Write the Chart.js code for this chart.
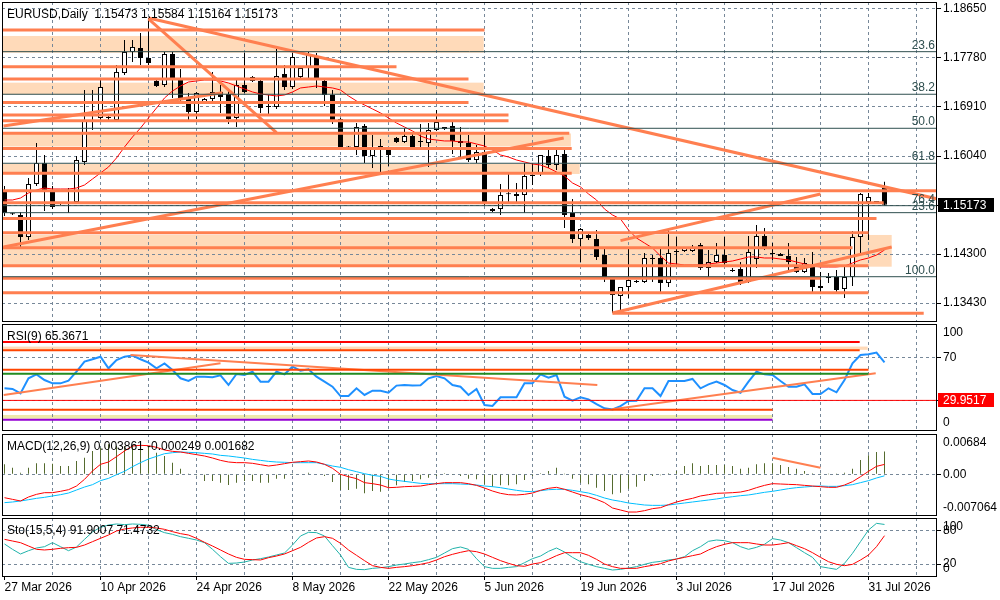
<!DOCTYPE html>
<html>
<head>
<meta charset="utf-8">
<title>EURUSD Daily</title>
<script src="https://cdn.jsdelivr.net/npm/chart.js@4.4.1/dist/chart.umd.min.js"></script>
<style>
  body { margin: 0; background: #fff; width: 1000px; height: 600px; overflow: hidden; position: relative; }
  canvas { position: absolute; left: 0; }
</style>
</head>
<body>
<canvas id="cMain" width="1000" height="323" style="top:0px"></canvas>
<canvas id="cRsi" width="1000" height="107" style="top:324px"></canvas>
<canvas id="cMacd" width="1000" height="82" style="top:434px"></canvas>
<canvas id="cSto" width="1000" height="82" style="top:518px"></canvas>
<script>
/*
  EURUSD daily, MetaTrader style: candles + MA, RSI(9), MACD(12,26,9), Sto(15,5,4)
  one bar per trading day, sunday bars included (6 bars a week)
*/

// date labels on the bottom axis, one every 12 bars (2 weeks)
const dateLabels = ['27 Mar 2026', '10 Apr 2026', '24 Apr 2026', '8 May 2026', '22 May 2026',
                    '5 Jun 2026', '19 Jun 2026', '3 Jul 2026', '17 Jul 2026', '31 Jul 2026'];

// price axis labels
const priceTicks = [1.18650, 1.17780, 1.16910, 1.16040, 1.15170, 1.14300, 1.13430];

// candles
const opens = [
  1.15437,1.15010,1.14993,1.14602,1.15543,1.15916,1.15437,1.15188,1.15206,1.15223,
  1.15934,1.16644,1.16715,1.16733,1.16679,1.17514,1.17887,1.17958,1.17780,1.17372,
  1.17301,1.17851,1.17390,1.17052,1.16821,1.16981,1.17052,1.17177,1.17141,1.16715,
  1.17301,1.17443,1.17372,1.16928,1.16910,1.17496,1.17265,1.17443,1.17603,1.17816,
  1.17372,1.17123,1.16697,1.16200,1.16200,1.16573,1.16040,1.16218,1.16165,1.16360,
  1.16289,1.16395,1.16307,1.16271,1.16502,1.16520,1.16573,1.16307,1.16271,1.15969,
  1.16111,1.15099,1.15099,1.15366,1.15366,1.15348,1.15685,1.15738,1.16040,1.15880,
  1.16076,1.15028,1.14567,1.14638,1.14567,1.14282,1.13856,1.13555,1.13714,1.13803,
  1.13803,1.14211,1.14229,1.13785,1.14353,1.14353,1.14353,1.14460,1.14052,1.14158,
  1.14282,1.14016,1.14034,1.13803,1.14211,1.14620,1.14300,1.14300,1.14265,1.14070,
  1.13981,1.14105,1.13732,1.13892,1.13892,1.13679,1.13892,1.14602,1.15223,1.15223,
  1.15473];
const highs = [
  1.15508,1.15028,1.15046,1.15650,1.16271,1.16058,1.15508,1.15223,1.15472,1.16040,
  1.17212,1.17212,1.17390,1.16768,1.17656,1.18100,1.18100,1.18224,1.18490,1.17390,
  1.17887,1.17887,1.17585,1.17159,1.17177,1.17070,1.17532,1.17301,1.17212,1.17390,
  1.17869,1.17461,1.17390,1.17123,1.17940,1.17656,1.17869,1.17603,1.17887,1.17869,
  1.17425,1.17212,1.16715,1.16218,1.16626,1.16608,1.16413,1.16342,1.16200,1.16378,
  1.16537,1.16466,1.16608,1.16626,1.16857,1.16555,1.16644,1.16555,1.16413,1.16236,
  1.16413,1.15117,1.15543,1.15756,1.15561,1.15916,1.15916,1.16058,1.16200,1.16182,
  1.16147,1.15277,1.14762,1.14691,1.14726,1.14407,1.13860,1.13714,1.14424,1.13839,
  1.14318,1.14282,1.14424,1.14726,1.14602,1.14407,1.14460,1.14495,1.14371,1.14495,
  1.14602,1.14052,1.14158,1.14620,1.14815,1.14762,1.14495,1.14318,1.14495,1.14247,
  1.14229,1.14336,1.13981,1.13963,1.14016,1.14070,1.14709,1.15383,1.15383,1.15241,
  1.15584];
const lows = [
  1.14975,1.14993,1.14424,1.14549,1.15508,1.15064,1.15099,1.15170,1.15028,1.15188,
  1.15880,1.16502,1.16679,1.16679,1.16644,1.17478,1.17709,1.17656,1.17656,1.17265,
  1.17265,1.17070,1.16999,1.16679,1.16697,1.16963,1.17017,1.16804,1.16608,1.16555,
  1.17159,1.17354,1.16804,1.16768,1.16875,1.17212,1.17230,1.17425,1.17425,1.17248,
  1.16928,1.16608,1.16147,1.16182,1.16058,1.15916,1.15827,1.15738,1.15863,1.16271,
  1.16271,1.16182,1.16200,1.15845,1.16484,1.16502,1.16076,1.16022,1.15934,1.15916,
  1.15170,1.15046,1.14993,1.15206,1.15206,1.15028,1.15525,1.15685,1.15827,1.15792,
  1.14762,1.14495,1.14158,1.14549,1.14194,1.13803,1.13253,1.13306,1.13519,1.13785,
  1.13785,1.13803,1.13626,1.13714,1.14070,1.14336,1.14336,1.14016,1.13892,1.14140,
  1.14105,1.13981,1.13750,1.13785,1.14052,1.14371,1.14194,1.14265,1.14016,1.13963,
  1.13963,1.13626,1.13626,1.13785,1.13626,1.13519,1.13732,1.14318,1.14549,1.15206,
  1.15164];
const closes = [
  1.15028,1.15005,1.14602,1.15543,1.15916,1.15401,1.15135,1.15206,1.15223,1.15969,
  1.16679,1.16662,1.17265,1.16715,1.17532,1.17887,1.17976,1.17780,1.17691,1.17283,
  1.17851,1.17425,1.17070,1.16821,1.17159,1.17052,1.17177,1.17088,1.16697,1.17301,
  1.17177,1.17372,1.16892,1.16910,1.17461,1.17265,1.17798,1.17603,1.17834,1.17390,
  1.17123,1.16644,1.16200,1.16191,1.16555,1.16040,1.16200,1.16200,1.16058,1.16289,
  1.16395,1.16200,1.16289,1.16502,1.16644,1.16555,1.16307,1.16271,1.15969,1.16111,
  1.15223,1.15064,1.15348,1.15360,1.15330,1.15685,1.15690,1.16058,1.15880,1.16058,
  1.14993,1.14567,1.14744,1.14584,1.14247,1.13874,1.13572,1.13714,1.13839,1.13821,
  1.14229,1.14229,1.13785,1.14318,1.14336,1.14407,1.14424,1.14052,1.14158,1.14282,
  1.14140,1.13998,1.13785,1.14336,1.14620,1.14424,1.14318,1.14265,1.14158,1.13981,
  1.14140,1.13714,1.13696,1.13874,1.13661,1.13892,1.14602,1.15366,1.15312,1.15230,
  1.15173];

// moving average (red line on the candles)
const maLine = [
  1.15259,1.15259,1.15294,1.15383,1.15437,1.15472,1.15454,1.15454,1.15454,1.15472,
  1.15525,1.15632,1.15738,1.15845,1.16005,1.16200,1.16378,1.16537,1.16715,1.16892,
  1.17070,1.17194,1.17283,1.17354,1.17372,1.17390,1.17390,1.17372,1.17336,1.17283,
  1.17230,1.17177,1.17141,1.17123,1.17106,1.17123,1.17177,1.17248,1.17265,1.17283,
  1.17265,1.17248,1.17212,1.17106,1.17017,1.16946,1.16875,1.16804,1.16715,1.16626,
  1.16555,1.16484,1.16395,1.16342,1.16324,1.16307,1.16307,1.16289,1.16289,1.16253,
  1.16218,1.16147,1.16058,1.16022,1.15969,1.15934,1.15898,1.15880,1.15827,1.15756,
  1.15685,1.15561,1.15490,1.15366,1.15259,1.15099,1.14993,1.14922,1.14726,1.14584,
  1.14495,1.14407,1.14265,1.14140,1.14123,1.14105,1.14105,1.14105,1.14123,1.14140,
  1.14158,1.14176,1.14211,1.14247,1.14247,1.14229,1.14229,1.14211,1.14194,1.14158,
  1.14123,1.14087,1.14070,1.14070,1.14070,1.14087,1.14140,1.14194,1.14229,1.14282,
  1.14371];

// RSI(9)
const rsiValues = [
  41.2,40.6,36.5,50.5,54.2,48.9,45.8,45.8,48.3,56.7,
  66.0,68.2,70.6,59.8,67.5,70.6,71.6,68.2,65.1,59.8,
  64.4,58.2,50.5,48.0,52.0,52.0,51.4,53.3,44.3,54.5,
  53.6,56.7,47.4,47.4,56.7,54.2,61.3,57.6,58.9,52.0,
  47.4,42.7,34.0,34.0,41.2,35.0,39.0,39.0,37.1,43.7,
  44.3,43.7,44.0,50.5,52.7,50.5,44.3,42.7,35.0,40.6,
  25.7,24.7,32.8,32.8,32.8,45.8,45.8,54.2,51.1,53.6,
  33.4,29.7,32.8,30.9,26.6,22.6,21.6,24.7,29.4,29.7,
  41.2,41.2,34.0,48.0,48.0,48.0,49.9,41.2,44.9,47.4,
  44.3,39.6,37.1,47.4,56.7,54.2,53.6,48.0,42.7,42.7,
  44.9,35.9,35.9,41.2,37.5,48.9,64.4,72.2,72.8,74.4,
  65.3671];

// MACD(12,26,9): histogram, blue line, red line
const macdHist = [
  0.00170,0.00113,0.00028,0.00113,0.00187,0.00187,0.00181,0.00141,0.00141,0.00226,
  0.00283,0.00396,0.00452,0.00509,0.00480,0.00480,0.00492,0.00492,0.00480,0.00367,
  0.00311,0.00198,0.00096,0.00005,-0.00017,-0.00113,-0.00113,-0.00141,-0.00181,-0.00141,
  -0.00113,-0.00113,-0.00141,-0.00141,-0.00073,-0.00073,0.00002,0.00011,0.00028,0.00011,
  -0.00028,-0.00130,-0.00266,-0.00266,-0.00243,-0.00322,-0.00283,-0.00294,-0.00226,-0.00187,
  -0.00130,-0.00113,-0.00085,-0.00057,-0.00028,0.00017,-0.00002,-0.00028,-0.00073,-0.00085,
  -0.00170,-0.00209,-0.00187,-0.00187,-0.00170,-0.00096,-0.00028,0.00017,0.00057,0.00113,
  0.00002,-0.00073,-0.00141,-0.00170,-0.00226,-0.00283,-0.00339,-0.00311,-0.00243,-0.00209,
  -0.00113,-0.00028,-0.00017,0.00017,0.00057,0.00141,0.00187,0.00141,0.00158,0.00158,
  0.00158,0.00141,0.00096,0.00113,0.00170,0.00187,0.00187,0.00158,0.00124,0.00096,
  0.00057,0.00017,0.00002,0.00002,0.00002,0.00028,0.00096,0.00243,0.00322,0.00379,
  0.003861];
const macdBlue = [
  -0.00480,-0.00469,-0.00452,-0.00430,-0.00407,-0.00390,-0.00367,-0.00345,-0.00317,-0.00266,
  -0.00215,-0.00175,-0.00107,-0.00068,-0.00006,0.00051,0.00130,0.00198,0.00260,0.00305,
  0.00350,0.00367,0.00379,0.00373,0.00367,0.00356,0.00345,0.00322,0.00311,0.00294,
  0.00277,0.00254,0.00237,0.00220,0.00209,0.00204,0.00198,0.00198,0.00198,0.00198,
  0.00170,0.00141,0.00119,0.00079,0.00045,0.00011,-0.00017,-0.00034,-0.00079,-0.00102,
  -0.00119,-0.00136,-0.00153,-0.00158,-0.00158,-0.00158,-0.00158,-0.00164,-0.00170,-0.00181,
  -0.00198,-0.00209,-0.00226,-0.00249,-0.00271,-0.00288,-0.00294,-0.00277,-0.00260,-0.00254,
  -0.00254,-0.00271,-0.00294,-0.00317,-0.00356,-0.00401,-0.00435,-0.00458,-0.00486,-0.00503,
  -0.00520,-0.00526,-0.00526,-0.00520,-0.00503,-0.00486,-0.00469,-0.00452,-0.00435,-0.00418,
  -0.00396,-0.00379,-0.00362,-0.00350,-0.00328,-0.00305,-0.00288,-0.00266,-0.00243,-0.00226,
  -0.00215,-0.00204,-0.00198,-0.00204,-0.00204,-0.00192,-0.00175,-0.00141,-0.00107,-0.00062,
  -0.000249];
const macdRed = [
  -0.00396,-0.00424,-0.00452,-0.00384,-0.00339,-0.00311,-0.00311,-0.00288,-0.00260,-0.00198,
  -0.00085,0.00057,0.00170,0.00209,0.00300,0.00396,0.00480,0.00492,0.00486,0.00458,
  0.00413,0.00390,0.00379,0.00356,0.00334,0.00311,0.00277,0.00237,0.00209,0.00198,
  0.00198,0.00187,0.00164,0.00141,0.00158,0.00181,0.00204,0.00215,0.00226,0.00209,
  0.00170,0.00102,0.00000,-0.00040,-0.00073,-0.00141,-0.00158,-0.00181,-0.00226,-0.00220,
  -0.00209,-0.00204,-0.00198,-0.00175,-0.00158,-0.00141,-0.00141,-0.00141,-0.00158,-0.00187,
  -0.00232,-0.00283,-0.00322,-0.00345,-0.00350,-0.00339,-0.00317,-0.00271,-0.00237,-0.00220,
  -0.00254,-0.00300,-0.00345,-0.00379,-0.00424,-0.00480,-0.00571,-0.00605,-0.00639,-0.00639,
  -0.00616,-0.00582,-0.00565,-0.00514,-0.00469,-0.00435,-0.00407,-0.00367,-0.00345,-0.00322,
  -0.00317,-0.00311,-0.00300,-0.00271,-0.00226,-0.00187,-0.00158,-0.00164,-0.00170,-0.00175,
  -0.00187,-0.00198,-0.00209,-0.00220,-0.00220,-0.00181,-0.00124,-0.00040,0.00051,0.00136,
  0.001682];

// Stochastic(15,5,4): main and signal
const stoMain = [
  56.4,46.7,38.2,44.2,49.1,51.5,58.8,51.5,44.2,50.9,
  64.8,78.2,86.7,90.9,92.7,91.5,92.7,92.1,90.3,82.4,
  77.0,73.9,69.7,66.7,63.6,58.8,46.7,33.3,21.2,21.8,
  23.6,27.3,29.7,32.7,36.4,40.0,54.5,70.9,77.6,77.0,
  70.9,53.3,36.4,13.9,10.3,9.7,12.1,13.3,15.2,18.2,
  20.0,22.4,24.2,27.9,32.1,40.0,47.9,50.9,46.7,29.7,
  15.2,12.1,12.1,13.9,15.2,22.4,29.7,34.5,43.0,49.1,
  41.8,32.1,24.2,19.4,15.2,12.1,9.1,10.3,12.7,15.2,
  19.4,23.0,24.8,27.3,29.1,33.3,44.2,51.5,61.2,63.6,
  62.4,58.8,51.5,46.7,50.3,55.8,66.1,63.6,58.8,49.7,
  40.6,32.1,15.2,12.7,10.3,21.2,39.4,60.6,81.8,93.9,
  91.9007];
const stoSignal = [
  64.8,61.8,58.8,52.7,46.7,45.5,46.7,48.5,49.7,50.3,
  54.5,60.6,66.7,72.7,80.0,83.6,85.5,86.7,86.7,85.5,
  83.0,78.8,75.2,72.7,66.7,59.4,52.7,45.5,38.2,32.1,
  28.5,27.9,27.3,31.5,34.5,38.2,44.2,50.3,59.4,67.3,
  69.7,66.7,57.6,45.5,35.8,26.1,17.0,13.9,12.1,13.9,
  15.2,17.0,19.4,22.4,27.3,33.3,37.6,41.2,44.2,42.4,
  38.2,32.1,26.1,21.2,17.0,15.8,20.0,22.4,28.5,35.2,
  40.6,40.6,40.6,35.8,28.5,20.0,15.2,12.1,12.1,12.1,
  15.2,17.6,20.6,25.5,29.1,32.1,35.2,38.2,45.5,51.5,
  55.8,58.8,58.8,58.8,56.4,54.5,54.5,56.4,58.8,53.3,
  47.9,40.6,32.1,24.2,19.4,17.0,19.4,27.3,36.4,51.5,
  71.4732];

// drawn objects on the price chart (bar index / price)
const hLines = [ // [first bar, price, last bar]
  [-1, 1.18277, 60], [-1, 1.17626, 49], [-1, 1.17407, 58], [-1, 1.16990, 58],
  [-1, 1.16768, 63], [-1, 1.16667, 63], [-1, 1.16443, 70.6], [-1, 1.16173, 70.9],
  [-1, 1.15733, 70.9], [-1, 1.15424, 120], [-1, 1.15211, 109.9], [-1, 1.14930, 109],
  [-1, 1.14678, 108], [-1, 1.14412, 106], [-1, 1.14093, 108], [-1, 1.13871, 102],
  [-1, 1.13613, 108], [76, 1.13247, 114.9]];
const zones = [ // [upper price, lower price, last bar]
  [1.18171, 1.17874, 59.9], [1.17342, 1.17136, 59.9], [1.16440, 1.16209, 70.8],
  [1.15898, 1.15721, 71.9], [1.14638, 1.14075, 110.9]];
const trendLines = [ // [bar, price, bar, price]
  [18, 1.18490, 116.6, 1.15277], [18, 1.18473, 34, 1.16454],
  [-0.125, 1.14424, 69.9, 1.16360], [-0.125, 1.16573, 27.25, 1.17164],
  [77, 1.14537, 102, 1.15366], [76, 1.13253, 110.9, 1.14424]];
const fiboLevels = [1.17892, 1.17136, 1.16532, 1.15911, 1.15158, 1.15034, 1.13897];
const fiboNames = ['23.6', '38.2', '50.0', '61.8', '76.4', '23.6', '100.0'];

// drawn objects on the RSI window
const rsiLevels = [84.3, 76.5, 58.5, 54.8, 29.9517, 21.3, 12.0];
const rsiLevelEnds = [106.9, 106.9, 108, 108, 120, 96, 96];
const rsiZones = [[80.0, 77.0, 107.9], [16.4, 12.9, 96]];
const rsiTrends = [[-0.1, 35.0, 27, 64.5], [15.75, 72.2, 74.1, 44.3], [76, 21.7, 108.9, 55.2]];
const macdTrend = [96, 0.0028, 102, 0.0011];


// ---------- styles ----------
const GRID = '#778899';
const CORAL = '#FF7F50';
const PEACH = '#FFDAB9';
const FIBO = '#2F4F4F';
const FONT = { family: '"Liberation Sans", Arial, sans-serif', size: 12 };
const FONT_CSS = '12px "Liberation Sans", Arial, sans-serif';
// 8 px per bar, bar centres on half pixels so 1px wicks stay sharp
const X_MIN = -0.3125, X_MAX = 116.5625;

const rsiLevelColors = ['#FF0000', '#FF4500', '#FF4500', '#228B22', '#FF0000', '#FF4500', '#9400D3'];
const rsiLevelWidths = [2, 2, 2, 2, 1, 2, 2];
const rsiZoneColors = [PEACH, '#EEE8AA'];

const bars = closes.map((c, i) => i);
const last = closes.length - 1;

// weekly vertical grid
const weekBars = [];
for (let i = 0; i <= 114; i += 6) weekBars.push(i);

// a two point line segment
function seg(x0, y0, x1, y1, color, width) {
  return {
    type: 'line', data: [{ x: x0, y: y0 }, { x: x1, y: y1 }],
    borderColor: color, borderWidth: width, pointRadius: 0,
    fill: false, tension: 0, clip: 0, order: 0
  };
}

function series(values, color, width) {
  return {
    type: 'line', data: values.map((v, i) => ({ x: i, y: v })),
    borderColor: color, borderWidth: width, pointRadius: 0,
    fill: false, tension: 0, clip: 0, order: 1
  };
}

function xAxis(showLabels) {
  return {
    type: 'linear', min: X_MIN, max: X_MAX, offset: false,
    afterBuildTicks: s => { s.ticks = weekBars.map(v => ({ value: v })); },
    afterFit: s => { s.height = showLabels ? 23 : 0; s.paddingLeft = 0; s.paddingRight = 0; },
    grid: {
      color: c => (c.tick && c.tick.value === 0) ? 'rgba(0,0,0,0)' : GRID,
      drawTicks: showLabels, tickLength: 3, tickBorderDash: [], offset: false,
      tickColor: c => (c.tick && c.tick.value % 12 === 0) ? '#000' : 'rgba(0,0,0,0)'
    },
    border: { display: false, dash: [3, 3] },
    ticks: {
      display: showLabels, autoSkip: false, maxRotation: 0, minRotation: 0,
      align: 'start', padding: 0, font: FONT, color: '#000',
      callback: v => (v % 12 === 0 && dateLabels[v / 12]) ? dateLabels[v / 12] : ''
    }
  };
}

function yAxis(min, max, ticks, showLabels) {
  return {
    position: 'right', min: min, max: max,
    afterBuildTicks: s => { s.ticks = ticks.map(v => ({ value: v })); },
    afterFit: s => { s.width = 63; s.paddingTop = 0; s.paddingBottom = 0; },
    ticks: { display: showLabels, font: FONT, color: '#000', padding: 2, callback: v => v.toFixed(5) },
    grid: { color: GRID, tickColor: '#000', tickLength: 4, tickBorderDash: [] },
    border: { display: false, dash: [3, 3] }
  };
}

// window decorations: zones behind the grid, frame, titles, side labels, value box
function decor(cfg) {
  return {
    id: 'decor',
    beforeDraw(chart) {
      const { ctx, chartArea: a, scales: { x, y } } = chart;
      ctx.save();
      (cfg.zones || []).forEach((z, k) => {
        const x1 = Math.min(x.getPixelForValue(z[2]), a.right);
        const y0 = y.getPixelForValue(z[0]), y1 = y.getPixelForValue(z[1]);
        ctx.fillStyle = cfg.zoneColors[k];
        ctx.fillRect(a.left, y0, x1 - a.left, y1 - y0);
      });
      ctx.restore();
    },
    afterDraw(chart) {
      const { ctx, chartArea: a, scales: { y } } = chart;
      ctx.save();
      ctx.font = FONT_CSS;

      // fibo level names
      if (cfg.fibo) {
        ctx.fillStyle = FIBO;
        ctx.textAlign = 'right';
        ctx.textBaseline = 'alphabetic';
        cfg.fibo.levels.forEach((p, k) => {
          ctx.fillText(cfg.fibo.names[k], a.right - 2, y.getPixelForValue(p) - 3);
        });
      }

      // frame
      ctx.strokeStyle = '#000';
      ctx.lineWidth = 1;
      ctx.strokeRect(a.left + 0.5, a.top + 0.5, a.right - a.left - 1, a.bottom - a.top - 1);

      // title
      ctx.fillStyle = '#000';
      ctx.textAlign = 'left';
      ctx.textBaseline = 'alphabetic';
      ctx.fillText(cfg.title, a.left + 5, a.top + 15.5);

      // side labels, kept inside the window like MT4 does
      (cfg.sideLabels || []).forEach(([v, t]) => {
        let py = y.getPixelForValue(v);
        py = Math.max(a.top + 9, Math.min(a.bottom - 8, py));
        ctx.textBaseline = 'middle';
        ctx.fillText(t, a.right + 6, py);
      });

      // value box on the axis
      if (cfg.box) {
        const py = Math.round(y.getPixelForValue(cfg.box.value));
        ctx.fillStyle = cfg.box.bg;
        ctx.fillRect(a.right + 1, py - 7, 56, 14);
        ctx.fillStyle = cfg.box.fg;
        ctx.textBaseline = 'middle';
        ctx.fillText(cfg.box.text, a.right + 6, py + 0.5);
      }
      ctx.restore();
    }
  };
}

const common = {
  responsive: false, animation: false, events: [],
  plugins: { legend: { display: false }, tooltip: { enabled: false } }
};


// ---------- price window ----------
let mainSets = [];
fiboLevels.forEach(p => mainSets.push(seg(-1, p, 120, p, FIBO, 1)));
hLines.forEach(h => mainSets.push(seg(h[0], h[1], h[2], h[1], CORAL, 3)));
trendLines.forEach(t => mainSets.push(seg(t[0], t[1], t[2], t[3], CORAL, 3)));
mainSets.push(series(maLine, '#FF0000', 1));
mainSets.push({
  type: 'bar', grouped: false, order: 2,
  data: bars.map(i => ({ x: i, y: [opens[i], closes[i]] })),
  backgroundColor: c => closes[c.dataIndex] >= opens[c.dataIndex] ? '#fff' : '#000',
  borderColor: '#000', borderWidth: 1, borderSkipped: false,
  barThickness: 5, minBarLength: 1, inflateAmount: 0
});
mainSets.push({
  type: 'bar', grouped: false, order: 3,
  data: bars.map(i => ({ x: i, y: [lows[i], highs[i]] })),
  backgroundColor: '#000', borderWidth: 0, barThickness: 1, inflateAmount: 0
});

new Chart(document.getElementById('cMain'), {
  type: 'bar',
  data: { datasets: mainSets },
  options: Object.assign({}, common, {
    layout: { padding: { left: 2, top: 2, right: 0, bottom: 1 } },
    scales: { x: xAxis(false), y: yAxis(1.13093, 1.18774, priceTicks, true) }
  }),
  plugins: [decor({
    zones: zones, zoneColors: zones.map(() => PEACH),
    fibo: { levels: fiboLevels, names: fiboNames },
    title: 'EURUSD,Daily  ' + [opens[last], highs[last], lows[last], closes[last]].map(v => v.toFixed(5)).join(' '),
    box: { value: closes[last], text: closes[last].toFixed(5), bg: '#000', fg: '#fff' }
  })]
});


// ---------- RSI window ----------
let rsiSets = [];
rsiLevels.forEach((v, k) => rsiSets.push(seg(-1, v, rsiLevelEnds[k], v, rsiLevelColors[k], rsiLevelWidths[k])));
rsiTrends.forEach(t => rsiSets.push(seg(t[0], t[1], t[2], t[3], CORAL, 2)));
rsiSets.push(series(rsiValues, '#1E90FF', 2));

new Chart(document.getElementById('cRsi'), {
  type: 'line',
  data: { datasets: rsiSets },
  options: Object.assign({}, common, {
    layout: { padding: { left: 2, top: 0, right: 0, bottom: 0 } },
    scales: { x: xAxis(false), y: yAxis(1.5, 101, [30, 70], false) }
  }),
  plugins: [decor({
    zones: rsiZones, zoneColors: rsiZoneColors,
    title: 'RSI(9) ' + rsiValues[last].toFixed(4),
    sideLabels: [[100, '100'], [70, '70'], [0, '0']],
    box: { value: rsiLevels[4], text: rsiLevels[4].toFixed(4), bg: '#FF0000', fg: '#fff' }
  })]
});


// ---------- MACD window ----------
let macdSets = [];
macdSets.push(seg(macdTrend[0], macdTrend[1], macdTrend[2], macdTrend[3], CORAL, 2));
macdSets.push(series(macdRed, '#FF0000', 1));
macdSets.push(series(macdBlue, '#00BFFF', 1));
macdSets.push({
  type: 'bar', grouped: false, order: 2,
  data: bars.map(i => ({ x: i, y: macdHist[i] })),
  backgroundColor: '#556B2F', borderWidth: 0, barThickness: 1, inflateAmount: 0
});

new Chart(document.getElementById('cMacd'), {
  type: 'bar',
  data: { datasets: macdSets },
  options: Object.assign({}, common, {
    layout: { padding: { left: 2, top: 0, right: 0, bottom: 0 } },
    scales: { x: xAxis(false), y: yAxis(-0.007064, 0.00684, [0], false) }
  }),
  plugins: [decor({
    title: 'MACD(12,26,9) ' + [macdHist[last], macdBlue[last], macdRed[last]].map(v => v.toFixed(6)).join(' '),
    sideLabels: [[0.00684, '0.00684'], [0, '0.00'], [-0.007064, '-0.007064']]
  })]
});


// ---------- Stochastic window ----------
new Chart(document.getElementById('cSto'), {
  type: 'line',
  data: { datasets: [series(stoSignal, '#FF0000', 1), series(stoMain, '#20B2AA', 1)] },
  options: Object.assign({}, common, {
    layout: { padding: { left: 2, top: 0, right: 0, bottom: 0 } },
    scales: { x: xAxis(true), y: yAxis(-3.6, 103.6, [20, 80], false) }
  }),
  plugins: [decor({
    title: 'Sto(15,5,4) ' + stoMain[last].toFixed(4) + ' ' + stoSignal[last].toFixed(4),
    sideLabels: [[100, '100'], [80, '80'], [20, '20'], [0, '0']]
  })]
});
</script>
</body>
</html>
